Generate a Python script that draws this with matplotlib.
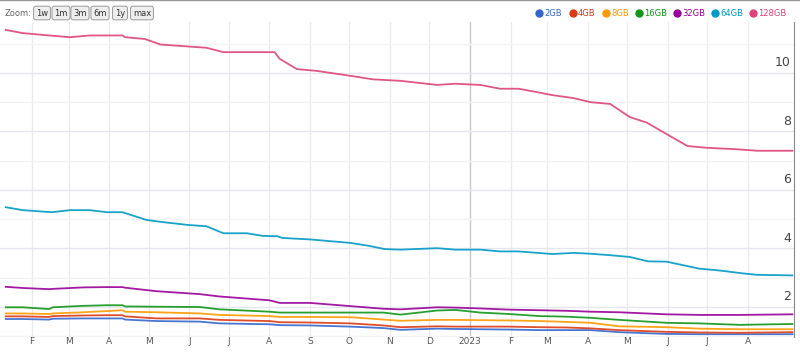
import pandas as pd
import matplotlib.pyplot as plt
import matplotlib.dates as mdates
from matplotlib.lines import Line2D

# shared dates for the five small series
dates_small = ["2022-01-12", "2022-01-25", "2022-02-14", "2022-02-17", "2022-03-12",
               "2022-03-30", "2022-04-11", "2022-04-13", "2022-05-07", "2022-06-09",
               "2022-06-24", "2022-08-01", "2022-08-09", "2022-09-01", "2022-10-02",
               "2022-10-27", "2022-11-09", "2022-12-07", "2022-12-21", "2023-01-09",
               "2023-01-31", "2023-02-23", "2023-03-16", "2023-04-03", "2023-04-25",
               "2023-05-31", "2023-06-25", "2023-07-26", "2023-09-04"]

gb2 = [1.59, 1.59, 1.57, 1.60, 1.61, 1.61, 1.61, 1.57, 1.52, 1.50, 1.44, 1.41, 1.38, 1.37, 1.33,
       1.28, 1.22, 1.26, 1.25, 1.24, 1.23, 1.21, 1.21, 1.21, 1.14, 1.08, 1.07, 1.07, 1.07]
gb4 = [1.68, 1.68, 1.66, 1.69, 1.71, 1.72, 1.72, 1.68, 1.61, 1.61, 1.56, 1.52, 1.48, 1.47, 1.44,
       1.37, 1.31, 1.34, 1.33, 1.33, 1.33, 1.31, 1.30, 1.27, 1.21, 1.15, 1.13, 1.12, 1.14]
gb8 = [1.78, 1.78, 1.76, 1.78, 1.82, 1.86, 1.89, 1.84, 1.82, 1.78, 1.73, 1.69, 1.66, 1.66, 1.65,
       1.57, 1.53, 1.56, 1.56, 1.55, 1.54, 1.52, 1.49, 1.46, 1.34, 1.31, 1.26, 1.24, 1.24]
gb16 = [1.99, 1.99, 1.93, 1.99, 2.04, 2.06, 2.06, 2.02, 2.01, 2.00, 1.92, 1.84, 1.81, 1.81, 1.81,
        1.81, 1.74, 1.88, 1.90, 1.81, 1.76, 1.69, 1.67, 1.63, 1.56, 1.46, 1.44, 1.39, 1.42]
gb32 = [2.69, 2.65, 2.61, 2.62, 2.67, 2.68, 2.68, 2.66, 2.54, 2.44, 2.36, 2.23, 2.14, 2.14, 2.03,
        1.94, 1.92, 1.99, 1.98, 1.95, 1.91, 1.89, 1.87, 1.84, 1.82, 1.75, 1.73, 1.73, 1.75]

dates_64 = ["2022-01-12", "2022-01-25", "2022-02-16", "2022-03-02", "2022-03-17", "2022-03-30",
            "2022-04-11", "2022-04-29", "2022-05-10", "2022-06-01", "2022-06-14", "2022-06-27",
            "2022-07-15", "2022-07-27", "2022-08-07", "2022-08-11", "2022-09-01", "2022-10-02",
            "2022-10-16", "2022-10-28", "2022-11-09", "2022-12-07", "2022-12-21", "2023-01-09",
            "2023-01-24", "2023-02-07", "2023-03-05", "2023-03-21", "2023-04-03", "2023-04-18",
            "2023-05-03", "2023-05-17", "2023-05-31", "2023-06-25", "2023-07-10", "2023-07-28",
            "2023-08-08", "2023-09-04"]
gb64 = [5.41, 5.31, 5.24, 5.31, 5.31, 5.24, 5.24, 4.98, 4.91, 4.80, 4.76, 4.52, 4.52, 4.43,
        4.42, 4.36, 4.31, 4.19, 4.09, 3.98, 3.96, 4.01, 3.96, 3.96, 3.90, 3.90, 3.81, 3.85,
        3.82, 3.77, 3.71, 3.56, 3.55, 3.31, 3.25, 3.15, 3.10, 3.08]

dates_128 = ["2022-01-12", "2022-01-25", "2022-02-14", "2022-03-02", "2022-03-17", "2022-04-11",
             "2022-04-13", "2022-04-28", "2022-05-10", "2022-06-14", "2022-06-27", "2022-08-05",
             "2022-08-09", "2022-08-22", "2022-09-06", "2022-10-02", "2022-10-19", "2022-11-09",
             "2022-12-07", "2022-12-21", "2023-01-09", "2023-01-24", "2023-02-07", "2023-02-18",
             "2023-03-05", "2023-03-21", "2023-04-03", "2023-04-18", "2023-05-03", "2023-05-16",
             "2023-05-31", "2023-06-16", "2023-07-01", "2023-07-24", "2023-08-08", "2023-08-20",
             "2023-09-04"]
gb128 = [11.47, 11.36, 11.28, 11.22, 11.28, 11.28, 11.22, 11.16, 10.97, 10.86, 10.71, 10.71,
         10.48, 10.13, 10.07, 9.90, 9.78, 9.73, 9.59, 9.63, 9.59, 9.46, 9.46, 9.37, 9.24, 9.14,
         9.00, 8.94, 8.49, 8.30, 7.91, 7.50, 7.44, 7.39, 7.34, 7.34, 7.34]

labels = ["2GB", "4GB", "8GB", "16GB", "32GB", "64GB", "128GB"]
colors = ["#3366cc", "#dc3912", "#ff9900", "#109618", "#990099", "#0099c6", "#dd4477"]

series = [(dates_small, gb2), (dates_small, gb4), (dates_small, gb8), (dates_small, gb16),
          (dates_small, gb32), (dates_64, gb64), (dates_128, gb128)]

W, H = 800, 353
fig = plt.figure(figsize=(8, 3.53), dpi=100)
ax = fig.add_axes([0, 16 / H, 794 / W, (337 - 22) / H])

# vertical month grid
start = pd.Timestamp("2022-02-01")
months = pd.date_range("2022-02-01", "2023-08-01", freq="MS")
for m in months:
    c = "#c8c8c8" if m.month == 1 else "#ebebeb"
    ax.axvline(m, color=c, lw=1, zorder=0)
    lab = str(m.year) if m.month == 1 else m.strftime("%b")[0]
    ax.annotate(lab, (mdates.date2num(m), 0), xycoords=ax.get_xaxis_transform(),
                xytext=(0, -3.3), textcoords="offset points", ha="center", va="center",
                fontsize=6.5, color="#555555")

# horizontal grid
for v in range(1, 12):
    c = "#e6e6ee" if v % 2 == 0 else "#f3f3f6"
    ax.axhline(v, color=c, lw=1, zorder=0)
for v in [2, 4, 6, 8, 10]:
    ax.text(0.996, v + 0.12, str(v), transform=ax.get_yaxis_transform(), ha="right",
            va="bottom", fontsize=9, color="#444444")

for (d, vals), col in zip(series, colors):
    ax.plot(pd.to_datetime(d), vals, color=col, lw=1.3, alpha=0.9, zorder=2)

ax.set_xlim(start - pd.Timedelta(days=24.4), start + pd.Timedelta(days=581.2))
ax.set_ylim(0.975, 11.74)
ax.set_xticks([])
ax.set_yticks([])
for s in ["top", "left", "bottom"]:
    ax.spines[s].set_visible(False)
ax.spines["right"].set_color("#888888")

# header: zoom buttons
fig.text(5 / W, 1 - 13 / H, "Zoom:", fontsize=6, color="#666666", va="center")
for txt, x in zip(["1w", "1m", "3m", "6m", "1y", "max"], [42, 61, 80, 100, 120, 142]):
    fig.text(x / W, 1 - 13 / H, txt, fontsize=6, color="#333333", ha="center", va="center",
             bbox=dict(boxstyle="round,pad=0.28", fc="#eeeeee", ec="#999999", lw=0.7))

# legend
dot_x = [539, 573, 606, 639, 677, 715, 753]
for lab, col, x in zip(labels, colors, dot_x):
    fig.add_artist(Line2D([x / W], [1 - 13 / H], marker="o", ms=5, color=col,
                          transform=fig.transFigure))
    fig.text((x + 5) / W, 1 - 13 / H, lab, fontsize=6, color=col, va="center")

fig.add_artist(Line2D([0, 1], [0.999, 0.999], color="#999999", lw=1, transform=fig.transFigure))

fig.savefig("out.png", dpi=100)
